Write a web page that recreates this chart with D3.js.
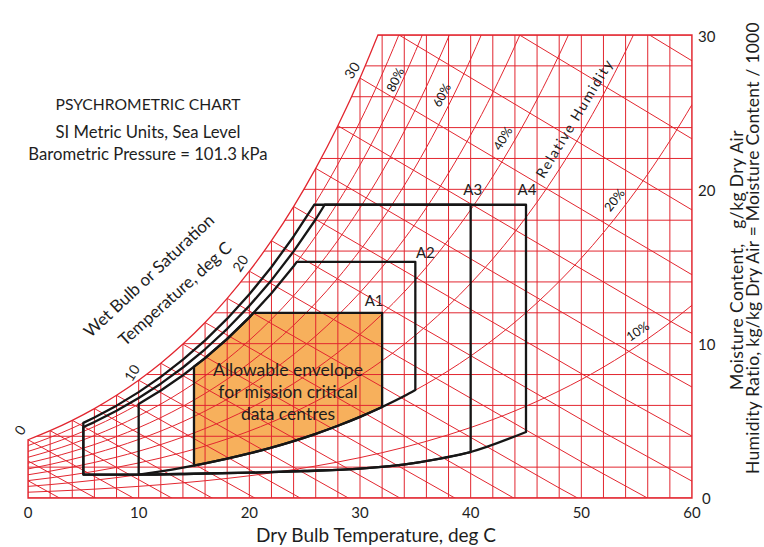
<!DOCTYPE html>
<html>
<head>
<meta charset="utf-8">
<script src="https://cdn.jsdelivr.net/npm/d3@7"></script>
<style>
body { margin: 0; background: #fff; }
text { font-family: Lato, "Open Sans", sans-serif; fill: #1e1e1e; }
</style>
</head>
<body>
<script>
var tempC = [-6,-4,-2,0,2,4,6,8,10,12,14,16,18,20,22,24,26,28,30,32,34,36,38,40,42,44,46,48,50,52,54,56,58,60];
var satPressure = [0.3689,0.4375,0.5177,0.6112,0.7060,0.8135,0.9353,1.0729,1.2282,1.4028,1.5989,1.8188,2.0647,2.3392,2.6452,2.9856,3.3637,3.7828,4.2467,4.7592,5.3247,5.9479,6.6336,7.3844,8.2096,9.1125,10.099,11.177,12.352,13.631,15.022,16.533,18.171,19.946];
var rhLevels = [0.1,0.2,0.3,0.4,0.5,0.6,0.7,0.8,0.9];
var wetBulbTemps = [-6,-4,-2,0,2,4,6,8,10,12,14,16,18,20,22,24,26,28,30,32,34,36];
var xTickValues = [0,10,20,30,40,50,60];
var yTickValues = [0,10,20,30];

// envelopes A1..A4
var envNames = ["A1","A2","A3","A4"];
var envTmin = [15,10,5,5];
var envTmax = [32,35,40,45];
var envRhMax = [0.8,0.8,0.85,0.9];
var envWmax = [12,15.3,19,19];
var envRhMin = [0.2,0.2,0,0];   // 0 = use the drawn lower limit below
var lowerLimitT = [5,10,15,20,25,30,35,40,45];
var lowerLimitW = [1.52,1.52,1.57,1.64,1.75,1.9,2.28,2.98,4.28];

// labels
var rhLabels = ["80%","60%","40%","20%","10%"];
var rhLabelRh = [0.8,0.6,0.4,0.2,0.1];
var rhLabelT = [33.2,37.4,42.9,53.0,55.1];
var rhLabelW = [27.1,26.1,23.3,19.3,10.8];
var wbLabels = ["0","10","20","30"];
var wbLabelT = [-0.7,9.4,19.2,29.3];
var wbLabelW = [4.4,8.1,15.2,27.7];

var P = 101.325;
var w = 764, h = 547;
var svg = d3.select("body").append("svg")
    .attr("width", w)
    .attr("height", h);

var x = d3.scaleLinear().domain([0, 60]).range([28, 692]);
var y = d3.scaleLinear().domain([0, 30]).range([498, 35]);
var pws = d3.scaleLinear().domain(tempC).range(satPressure); // piecewise table lookup
var lowerLimit = d3.scaleLinear().domain(lowerLimitT).range(lowerLimitW);

function hum(T, phi) { // g/kg
    var p = phi * pws(T);
    return 622 * p / (P - p);
}
function tempAtW(phi, wv) { // invert by bisection
    var lo = -6, hi = 60;
    for (var k = 0; k < 40; k++) {
        var mid = (lo + hi) / 2;
        if (hum(mid, phi) < wv) lo = mid; else hi = mid;
    }
    return (lo + hi) / 2;
}
function rhSegment(phi, t0, t1) {
    var ts = tempC.filter(function(t){ return t > Math.min(t0,t1) && t < Math.max(t0,t1); });
    if (t0 > t1) ts.reverse();
    return [t0].concat(ts, [t1]).map(function(t){ return [t, hum(t, phi)]; });
}

var red = "#e2262f";
var line = d3.line().x(function(d){ return x(d[0]); }).y(function(d){ return y(d[1]); });
var smooth = d3.line().x(function(d){ return x(d[0]); }).y(function(d){ return y(d[1]); }).curve(d3.curveMonotoneX);
function lineTo(pts) {
    return pts.map(function(p){ return "L" + x(p[0]) + "," + y(p[1]); }).join("");
}

// chart boundary: saturation curve, top, right, bottom
var tTop = tempAtW(1, 30);
var satPts = tempC.filter(function(t){ return t >= 0 && t < tTop; })
    .map(function(t){ return [t, hum(t, 1)]; });
satPts.push([tTop, 30]);
var boundary = smooth(satPts) + lineTo([[60, 30], [60, 0], [0, 0]]) + "Z";

svg.append("clipPath").attr("id", "chartClip")
    .append("path").attr("d", boundary);

// envelope path: lower edge (left to right), right edge, top, upper RH edge back down
function envelopePath(i) {
    var t0 = envTmin[i], t1 = envTmax[i];
    var lower;
    if (envRhMin[i] > 0) {
        lower = rhSegment(envRhMin[i], t0, t1);
    } else {
        lower = [t0].concat(lowerLimitT.filter(function(t){ return t > t0 && t < t1; }), [t1])
            .map(function(t){ return [t, lowerLimit(t)]; });
    }
    var tc = tempAtW(envRhMax[i], envWmax[i]);
    var upper = rhSegment(envRhMax[i], tc, t0);
    return smooth(lower) + lineTo([[t1, envWmax[i]]].concat(upper)) + "Z";
}

// orange allowable envelope (A1) goes under the grid
svg.append("path")
    .attr("class", "envelopeFill")
    .attr("d", envelopePath(0))
    .style("fill", "#f7b05c");

var grid = svg.append("g").attr("clip-path", "url(#chartClip)")
    .style("fill", "none").style("stroke", red).style("stroke-width", 1);

// vertical dry bulb lines every 2 deg
grid.selectAll(".vline").data(x.ticks(30)).enter().append("line")
    .attr("class", "vline")
    .attr("x1", function(d){ return x(d); }).attr("x2", function(d){ return x(d); })
    .attr("y1", y(0)).attr("y2", y(30));

// horizontal moisture lines every 2 g/kg
grid.selectAll(".hline").data(y.ticks(15)).enter().append("line")
    .attr("class", "hline")
    .attr("y1", function(d){ return y(d); }).attr("y2", function(d){ return y(d); })
    .attr("x1", x(0)).attr("x2", x(60));

// relative humidity curves
grid.selectAll(".rh").data(rhLevels).enter().append("path")
    .attr("class", "rh")
    .attr("d", function(phi){
        return smooth(tempC.filter(function(t){ return t >= 0; }).map(function(t){ return [t, hum(t, phi)]; }));
    });

// wet bulb lines
grid.selectAll(".wb").data(wetBulbTemps).enter().append("path")
    .attr("class", "wb")
    .attr("d", function(tw){
        var ws = hum(tw, 1);
        var pts = [tw, tw + 30, tw + 60].map(function(t){
            return [t, ((2501 - 2.326 * tw) * ws - 1006 * (t - tw)) / (2501 + 1.86 * t - 4.186 * tw)];
        });
        return line(pts);
    });

// outline
svg.append("path").attr("d", boundary)
    .style("fill", "none").style("stroke", red).style("stroke-width", 1.3);

// black envelope outlines
svg.selectAll(".env").data(envNames).enter().append("path")
    .attr("class", "env")
    .attr("d", function(d, i){ return envelopePath(i); })
    .style("fill", "none").style("stroke", "#161616").style("stroke-width", 2.3)
    .style("stroke-linejoin", "round");

var envLabelDx = [-8, 10, 2, 1];
var envLabelDy = [-7, -4, -10, -10];
svg.selectAll(".envLabel").data(envNames).enter().append("text")
    .attr("class", "envLabel")
    .attr("x", function(d, i){ return x(envTmax[i]) + envLabelDx[i]; })
    .attr("y", function(d, i){ return y(envWmax[i]) + envLabelDy[i]; })
    .attr("text-anchor", "middle")
    .style("font-size", "15px")
    .text(function(d){ return d; });

// envelope caption
svg.append("text").attr("x", 288).attr("y", 376).attr("text-anchor", "middle")
    .style("font-size", "17.5px")
    .selectAll("tspan").data(["Allowable envelope","for mission critical","data centres"]).enter()
    .append("tspan").attr("x", 288).attr("dy", function(d, i){ return i ? 22 : 0; })
    .text(function(d){ return d; });

// RH labels along curves
svg.selectAll(".rhLabel").data(rhLabels).enter().append("text")
    .attr("class", "rhLabel")
    .attr("text-anchor", "middle")
    .attr("transform", function(d, i){
        var t = rhLabelT[i], phi = rhLabelRh[i];
        var ang = Math.atan2(y(hum(t + 0.5, phi)) - y(hum(t - 0.5, phi)), x(t + 0.5) - x(t - 0.5)) * 180 / Math.PI;
        return "translate(" + x(t) + "," + y(rhLabelW[i]) + ") rotate(" + ang + ")";
    })
    .attr("dy", "0.35em")
    .style("font-size", "12.5px")
    .style("fill", "#111")
    .text(function(d){ return d; });

svg.append("text")
    .attr("transform", "translate(" + x(49.4) + "," + y(24.6) + ") rotate(-59)")
    .attr("text-anchor", "middle").attr("dy", "0.35em")
    .style("font-size", "14px").style("letter-spacing", "1.6px")
    .text("Relative Humidity");

// wet bulb labels
svg.selectAll(".wbLabel").data(wbLabels).enter().append("text")
    .attr("class", "wbLabel")
    .attr("text-anchor", "middle")
    .attr("transform", function(d, i){
        return "translate(" + x(wbLabelT[i]) + "," + y(wbLabelW[i]) + ") rotate(-58)";
    })
    .attr("dy", "0.35em")
    .style("font-size", "14px")
    .text(function(d){ return d; });

svg.append("text")
    .attr("transform", "translate(153,280) rotate(-43)")
    .attr("text-anchor", "middle")
    .style("font-size", "17px")
    .text("Wet Bulb or Saturation");
svg.append("text")
    .attr("transform", "translate(179,298) rotate(-42)")
    .attr("text-anchor", "middle")
    .style("font-size", "17px")
    .text("Temperature, deg C");

// title block
svg.append("text").attr("x", 148).attr("y", 110).attr("text-anchor", "middle")
    .style("font-size", "15.7px").text("PSYCHROMETRIC CHART");
svg.append("text").attr("x", 148).attr("y", 138).attr("text-anchor", "middle")
    .style("font-size", "16.7px").text("SI Metric Units, Sea Level");
svg.append("text").attr("x", 148).attr("y", 160).attr("text-anchor", "middle")
    .style("font-size", "16.7px").text("Barometric Pressure = 101.3 kPa");

// x tick labels
svg.selectAll(".xTick").data(xTickValues).enter().append("text")
    .attr("class", "xTick")
    .attr("x", function(d){ return x(d); })
    .attr("y", 518)
    .attr("text-anchor", "middle")
    .style("font-size", "15px")
    .text(function(d){ return d; });

// y tick labels
svg.selectAll(".yTick").data(yTickValues).enter().append("text")
    .attr("class", "yTick")
    .attr("x", function(d){ return d === 0 ? x(60) + 10 : x(60) + 6; })
    .attr("y", function(d){ return d === 0 ? y(d) + 6 : y(d) + 6.5; })
    .style("font-size", "15px")
    .text(function(d){ return d; });

svg.append("text").attr("x", 376).attr("y", 542).attr("text-anchor", "middle")
    .style("font-size", "19px").text("Dry Bulb Temperature, deg C");

svg.append("text").attr("transform", "translate(743,260) rotate(-90)")
    .attr("text-anchor", "middle").style("font-size", "17.5px").style("white-space", "pre")
    .style("letter-spacing", "0.4px")
    .text("Moisture Content,   g/kg Dry Air");
svg.append("text").attr("transform", "translate(759,248) rotate(-90)")
    .attr("text-anchor", "middle").style("font-size", "17.5px")
    .style("letter-spacing", "0.25px")
    .text("Humidity Ratio, kg/kg Dry Air = Moisture Content / 1000");
</script>
</body>
</html>
